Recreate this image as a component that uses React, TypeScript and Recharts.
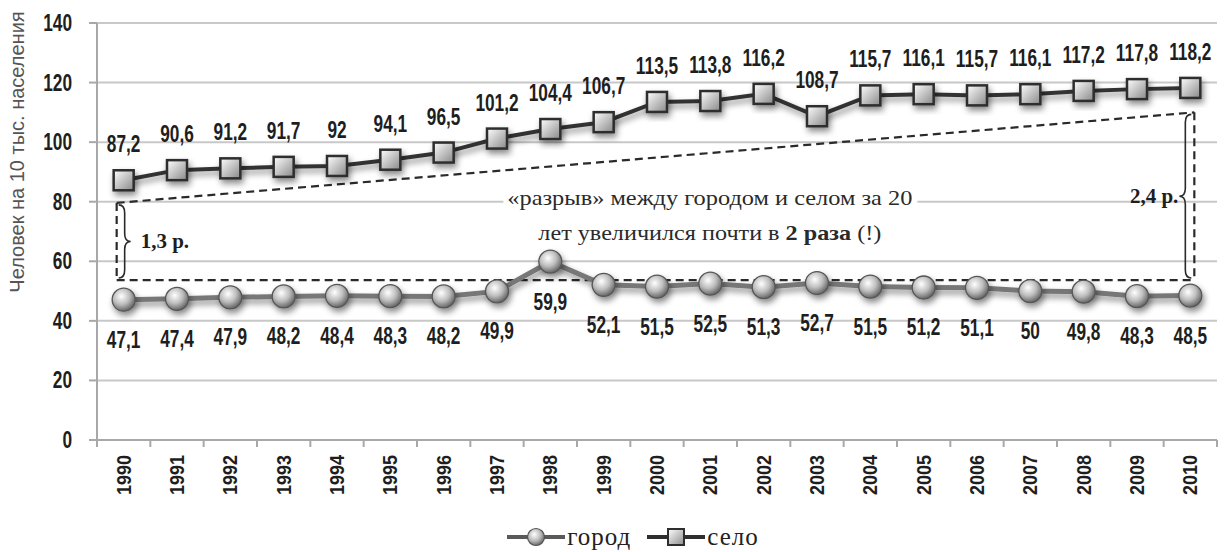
import { LineChart, Line, XAxis, YAxis, CartesianGrid, Legend, ReferenceLine, ReferenceDot, LabelList } from 'recharts';

const years = ['1990', '1991', '1992', '1993', '1994', '1995', '1996', '1997', '1998', '1999', '2000',
  '2001', '2002', '2003', '2004', '2005', '2006', '2007', '2008', '2009', '2010'];
const gorod = [47.1, 47.4, 47.9, 48.2, 48.4, 48.3, 48.2, 49.9, 59.9, 52.1, 51.5, 52.5, 51.3, 52.7, 51.5, 51.2, 51.1, 50, 49.8, 48.3, 48.5];
const selo = [87.2, 90.6, 91.2, 91.7, 92, 94.1, 96.5, 101.2, 104.4, 106.7, 113.5, 113.8, 116.2, 108.7, 115.7, 116.1, 115.7, 116.1, 117.2, 117.8, 118.2];
const yTicks = [0, 20, 40, 60, 80, 100, 120, 140];

// уровни пунктирных линий «разрыва»
const gapBottom = 53.7;
const gapTopStart = 79.6;
const gapTopEnd = 110;
const ratioStart = '1,3 р.';
const ratioEnd = '2,4 р.';
const noteLine1 = '«разрыв» между городом и селом за 20';
const noteLine2 = ['лет увеличился почти в ', '2 раза', ' (!)'];

const W = 1224;
const H = 552;
const M = { top: 23, right: 7, left: 0, bottom: 12 };
const Y_W = 97;
const PLOT_W = W - M.left - M.right - Y_W;
const BAND = PLOT_W / years.length;

const data = years.map((year, i) => ({ year, gorod: gorod[i], selo: selo[i] }));

const numFont = '"Liberation Sans", Arial, sans-serif';
const serif = '"Liberation Serif", "Times New Roman", serif';
const fmt = (v: number) => String(v).replace('.', ',');

// узкий жирный шрифт для чисел: сжимаем по горизонтали
const NumText = ({ x, y, sx = 0.72, size = 24, anchor = 'middle', rotate = 0, children }: any) => (
  <text transform={`translate(${x},${y}) rotate(${rotate}) scale(${sx},1)`} textAnchor={anchor}
    fontFamily={numFont} fontWeight="bold" fontSize={size} fill="#1e1e1e">
    {children}
  </text>
);

const XTick = (props: any) => {
  const { x, y, payload, index } = props;
  const left = x - BAND / 2;
  return (
    <g>
      <line x1={left} x2={left} y1={y} y2={y + 7} stroke="#a8a8a8" strokeWidth={2} />
      {index === years.length - 1 && (
        <line x1={x + BAND / 2} x2={x + BAND / 2} y1={y} y2={y + 7} stroke="#a8a8a8" strokeWidth={2} />
      )}
      <g transform={`translate(${x + 7},${y + 15}) rotate(-90)`}>
        <NumText x={0} y={0} sx={0.9} size={20} anchor="end">{payload.value}</NumText>
      </g>
    </g>
  );
};

const YTick = (props: any) => {
  const { x, y, payload } = props;
  return <NumText x={x} y={y + 8} anchor="end" size={24}>{payload.value}</NumText>;
};

const SeloLabel = (props: any) => {
  const { x, y, value } = props;
  return <NumText x={x} y={y - 28}>{fmt(value)}</NumText>;
};

const GorodLabel = (props: any) => {
  const { x, y, value } = props;
  return <NumText x={x} y={y + 48}>{fmt(value)}</NumText>;
};

const SquareDot = (p: any) => (
  <rect key={`s${p.index}`} x={p.cx - 10} y={p.cy - 10} width={20} height={20}
    fill="url(#sqGrad)" stroke="#2e2e2e" strokeWidth={2.5} filter="url(#shadow)" />
);

const BallDot = (p: any) => (
  <circle key={`c${p.index}`} cx={p.cx} cy={p.cy} r={11.5}
    fill="url(#ballGrad)" stroke="#555" strokeWidth={1.3} filter="url(#shadow)" />
);

const dashed = (dx1: number, dx2: number) => (p: any) => (
  <line x1={p.x1 + dx1} y1={p.y1} x2={p.x2 + dx2} y2={p.y2} stroke="#2a2a2a" strokeWidth={2.2} strokeDasharray="8 5" />
);

// фигурная скобка: dir = 1 — остриё вправо, -1 — влево
const bracePath = (x: number, y1: number, y2: number, w: number, dir: number) => {
  const top = Math.min(y1, y2);
  const bot = Math.max(y1, y2);
  const mid = (top + bot) / 2;
  const r = 8;
  const xm = x + (dir * w) / 2;
  const xe = x + dir * w;
  return `M${x},${top} Q${xm},${top} ${xm},${top + r} L${xm},${mid - r} Q${xm},${mid} ${xe},${mid} ` +
    `Q${xm},${mid} ${xm},${mid + r} L${xm},${bot - r} Q${xm},${bot} ${x},${bot}`;
};

const LeftBrace = (p: any) => {
  const x = p.x1 - 7;
  const mid = (p.y1 + p.y2) / 2;
  return (
    <g>
      <line x1={x} y1={p.y1} x2={x} y2={p.y2} stroke="#2a2a2a" strokeWidth={2.2} strokeDasharray="8 5" />
      <path d={bracePath(x + 2, p.y1 + 2, p.y2 - 2, 12, 1)} fill="none" stroke="#2a2a2a" strokeWidth={1.6} />
      <text x={x + 24} y={mid} dominantBaseline="central" fontFamily={serif} fontWeight="bold" fontSize={21} fill="#1e1e1e">
        {ratioStart}
      </text>
    </g>
  );
};

const RightBrace = (p: any) => {
  const x = p.x1 + 4;
  const mid = (p.y1 + p.y2) / 2;
  return (
    <g>
      <line x1={x} y1={p.y1} x2={x} y2={p.y2} stroke="#2a2a2a" strokeWidth={2.2} strokeDasharray="8 5" />
      <path d={bracePath(x - 3, p.y1 + 2, p.y2 - 2, 12, -1)} fill="none" stroke="#2a2a2a" strokeWidth={1.6} />
      <text x={x - 16} y={mid} dominantBaseline="central" textAnchor="end" fontFamily={serif} fontWeight="bold" fontSize={21} fill="#1e1e1e">
        {ratioEnd}
      </text>
    </g>
  );
};

const Note = (p: any) => {
  const { cx, cy } = p;
  return (
    <g>
      <rect x={cx - 207} y={cy - 32} width={414} height={66} fill="#fff" />
      <text x={cx - 203} y={cy - 17} dominantBaseline="central" fontFamily={serif} fontSize={21} fill="#2a2a2a"
        textLength={405} lengthAdjust="spacingAndGlyphs">
        {noteLine1}
      </text>
      <text x={cx - 172} y={cy + 18} dominantBaseline="central" fontFamily={serif} fontSize={21} fill="#2a2a2a"
        textLength={343} lengthAdjust="spacingAndGlyphs">
        {noteLine2[0]}
        <tspan fontWeight="bold">{noteLine2[1]}</tspan>
        {noteLine2[2]}
      </text>
    </g>
  );
};

const LegendIcon = ({ kind }: { kind: string }) => (
  <svg width={58} height={24} style={{ display: 'block' }}>
    <line x1={0} y1={12} x2={58} y2={12} stroke={kind === 'gorod' ? '#5a5a5a' : '#2e2e2e'} strokeWidth={4} />
    {kind === 'gorod' ? (
      <circle cx={29} cy={12} r={8.5} fill="url(#ballGradL)" stroke="#555" strokeWidth={1.2} />
    ) : (
      <rect x={21} y={4} width={16} height={16} fill="url(#sqGradL)" stroke="#2e2e2e" strokeWidth={2} />
    )}
    <defs>
      <radialGradient id="ballGradL" cx="40%" cy="35%" r="65%">
        <stop offset="0%" stopColor="#ffffff" />
        <stop offset="60%" stopColor="#b8b8b8" />
        <stop offset="100%" stopColor="#6a6a6a" />
      </radialGradient>
      <linearGradient id="sqGradL" x1="0" y1="0" x2="1" y2="1">
        <stop offset="0%" stopColor="#ffffff" />
        <stop offset="100%" stopColor="#8c8c8c" />
      </linearGradient>
    </defs>
  </svg>
);

const LegendContent = (props: any) => {
  const { payload } = props;
  return (
    <div style={{ display: 'flex', justifyContent: 'center', alignItems: 'center', height: 30, paddingLeft: 58,
      fontFamily: serif, fontSize: 25, letterSpacing: 1, color: '#222' }}>
      {(payload || []).map((e: any) => (
        <div key={e.dataKey} style={{ display: 'flex', alignItems: 'center', marginRight: 16 }}>
          <LegendIcon kind={e.dataKey} />
          <span style={{ marginLeft: 2 }}>{e.value}</span>
        </div>
      ))}
    </div>
  );
};

const YLabel = (props: any) => {
  const { viewBox } = props;
  return (
    <text transform={`translate(${viewBox.x + 17},${viewBox.y + 129}) rotate(-90)`} textAnchor="middle"
      dominantBaseline="central" fontFamily='"Liberation Sans", Arial, sans-serif' fontSize={20} fill="#555">
      Человек на 10 тыс. населения
    </text>
  );
};

export default function App() {
  return (
    <div style={{ position: 'absolute', left: 0, top: 0, width: W, height: H, background: '#fff' }}>
      <LineChart width={W} height={H} data={data} margin={M}>
        <defs>
          <radialGradient id="ballGrad" cx="40%" cy="35%" r="65%">
            <stop offset="0%" stopColor="#ffffff" />
            <stop offset="55%" stopColor="#bdbdbd" />
            <stop offset="100%" stopColor="#666" />
          </radialGradient>
          <linearGradient id="sqGrad" x1="0" y1="0" x2="1" y2="1">
            <stop offset="0%" stopColor="#ffffff" />
            <stop offset="100%" stopColor="#888" />
          </linearGradient>
          <filter id="shadow" x="-30%" y="-30%" width="180%" height="180%">
            <feDropShadow dx={2} dy={4} stdDeviation={3} floodColor="#000" floodOpacity={0.45} />
          </filter>
        </defs>
        <CartesianGrid vertical={false} stroke="#c8c8c8" strokeWidth={2} />
        <XAxis dataKey="year" interval={0} height={70} padding={{ left: BAND / 2, right: BAND / 2 }}
          tickSize={0} tickMargin={0} tick={<XTick />} axisLine={{ stroke: '#a8a8a8', strokeWidth: 2 }} tickLine={false} />
        <YAxis width={Y_W} domain={[0, 140]} ticks={yTicks} interval={0} tickSize={8} tickMargin={17}
          axisLine={{ stroke: '#a8a8a8', strokeWidth: 2 }} tickLine={{ stroke: '#a8a8a8', strokeWidth: 2 }}
          tick={<YTick />} label={<YLabel />} />
        <Legend verticalAlign="bottom" content={<LegendContent />} wrapperStyle={{ bottom: 0, left: 0, width: W }} />
        <ReferenceLine segment={[{ x: '1990', y: gapTopStart }, { x: '2010', y: gapTopEnd }]} ifOverflow="visible" shape={dashed(-7, 4)} />
        <ReferenceLine segment={[{ x: '1990', y: gapBottom }, { x: '2010', y: gapBottom }]} ifOverflow="visible" shape={dashed(-7, 4)} />
        <ReferenceLine segment={[{ x: '1990', y: gapTopStart }, { x: '1990', y: gapBottom }]} ifOverflow="visible" shape={LeftBrace} />
        <ReferenceLine segment={[{ x: '2010', y: gapTopEnd }, { x: '2010', y: gapBottom }]} ifOverflow="visible" shape={RightBrace} />
        <ReferenceDot x="2001" y={75.5} r={0} ifOverflow="visible" shape={Note} />
        <Line dataKey="gorod" name="город" stroke="#777" strokeWidth={5} dot={BallDot} activeDot={false}
          isAnimationActive={false} filter="url(#shadow)">
          <LabelList dataKey="gorod" content={GorodLabel} />
        </Line>
        <Line dataKey="selo" name="село" stroke="#333" strokeWidth={4} dot={SquareDot} activeDot={false}
          isAnimationActive={false} filter="url(#shadow)">
          <LabelList dataKey="selo" content={SeloLabel} />
        </Line>
      </LineChart>
    </div>
  );
}
